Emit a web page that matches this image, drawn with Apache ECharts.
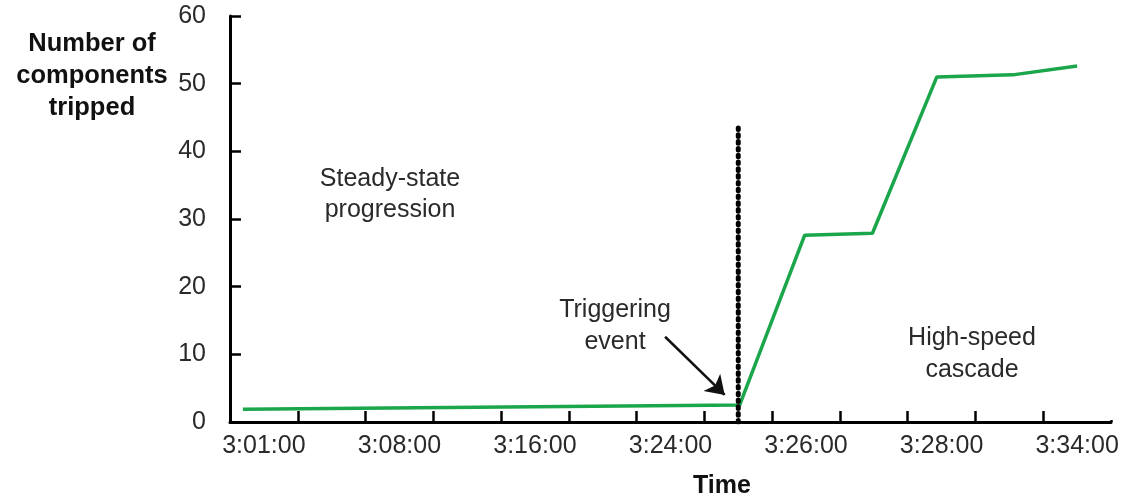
<!DOCTYPE html>
<html>
<head>
<meta charset="utf-8">
<script src="https://cdn.jsdelivr.net/npm/echarts@6/dist/echarts.min.js"></script>
<style>
html,body{margin:0;padding:0;background:#fff;}
#chart{width:1125px;height:499px;}
</style>
</head>
<body>
<div id="chart"></div>
<script>
// Tick labels of the (compressed) time axis: one label every other slot
const timeLabels = ['3:01:00', '', '3:08:00', '', '3:16:00', '', '3:24:00', '', '3:26:00', '', '3:28:00', '', '3:34:00'];
// Line points: position along the axis (in slot units) and number of components tripped
const timePos = [0.19, 7.52, 8.48, 9.48, 10.43, 11.55, 12.5];
const tripped = [1.9, 2.5, 27.6, 27.9, 51.0, 51.3, 52.6];
// Triggering event marker
const triggerPos = 7.5;
const triggerTop = 44;
// Arrow (annotation) from / to, in data units
const arrowFrom = [6.42, 12.6];
const arrowTo = [7.30, 4.0];
const yTicks = [0, 10, 20, 30, 40, 50, 60];

const chart = echarts.init(document.getElementById('chart'), null, {renderer: 'canvas'});
const FONT = '"Liberation Sans", Arial, sans-serif';
const TXT = '#2a2a2a';

const option = {
  animation: false,
  backgroundColor: '#ffffff',
  grid: {left: 230, right: 14, top: 16, bottom: 77, containLabel: false},
  xAxis: [
    {
      type: 'category',
      data: timeLabels,
      boundaryGap: true,
      axisLine: {show: true, lineStyle: {color: '#000', width: 3}},
      axisTick: {show: true, inside: true, length: 11, interval: 0, lineStyle: {color: '#000', width: 2.5}},
      axisLabel: {interval: 0, margin: 12, fontSize: 25, color: TXT, fontFamily: FONT},
      splitLine: {show: false}
    },
    {
      type: 'value',
      min: 0,
      max: timeLabels.length,
      show: false
    }
  ],
  yAxis: {
    type: 'value',
    min: yTicks[0],
    max: yTicks[yTicks.length - 1],
    interval: 10,
    axisLine: {show: true, lineStyle: {color: '#000', width: 3}},
    axisTick: {show: true, inside: true, length: 11, lineStyle: {color: '#000', width: 2.5}},
    axisLabel: {margin: 24, fontSize: 25, color: TXT, fontFamily: FONT},
    splitLine: {show: false}
  },
  series: [
    {
      type: 'line',
      xAxisIndex: 1,
      data: timePos.map((x, i) => [x, tripped[i]]),
      symbol: 'none',
      lineStyle: {color: '#1ba64b', width: 3.5},
      z: 3
    },
    {
      type: 'line',
      xAxisIndex: 1,
      data: [[triggerPos, 0], [triggerPos, triggerTop]],
      symbol: 'none',
      lineStyle: {color: '#000', width: 5, type: [1.6, 5.2], cap: 'round'},
      z: 4
    },
    {
      type: 'lines',
      coordinateSystem: 'cartesian2d',
      xAxisIndex: 1,
      yAxisIndex: 0,
      symbol: ['none', 'arrow'],
      symbolSize: [0, 18],
      lineStyle: {color: '#111', width: 2.5, opacity: 1},
      data: [{coords: [arrowFrom, arrowTo]}],
      z: 5
    }
  ],
  graphic: [
    {type: 'rect', shape: {x: 1107, y: 406, width: 10, height: 14}, style: {fill: '#fff'}, z: 100},
    {type: 'text', x: 92, y: 76, style: {text: 'Number of\ncomponents\ntripped', font: 'bold 25.5px ' + FONT, fill: '#111', align: 'center', verticalAlign: 'middle', lineHeight: 32}},
    {type: 'text', x: 390, y: 195, style: {text: 'Steady-state\nprogression', font: '25px ' + FONT, fill: TXT, align: 'center', verticalAlign: 'middle', lineHeight: 31}},
    {type: 'text', x: 615, y: 326, style: {text: 'Triggering\nevent', font: '25px ' + FONT, fill: TXT, align: 'center', verticalAlign: 'middle', lineHeight: 32}},
    {type: 'text', x: 972, y: 354, style: {text: 'High-speed\ncascade', font: '25px ' + FONT, fill: TXT, align: 'center', verticalAlign: 'middle', lineHeight: 32}},
    {type: 'text', x: 722, y: 486, style: {text: 'Time', font: 'bold 25px ' + FONT, fill: '#111', align: 'center', verticalAlign: 'middle'}}
  ]
};
chart.setOption(option);
</script>
</body>
</html>
